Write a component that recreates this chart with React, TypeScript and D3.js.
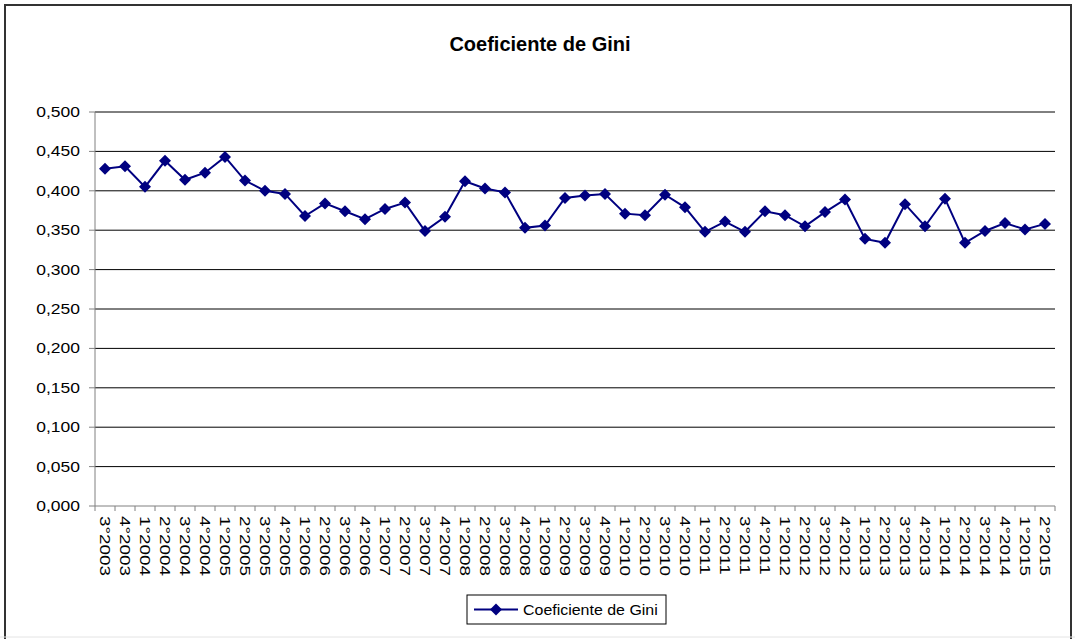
import { scaleBand, scaleLinear, line, range } from 'd3';

const quarters = [
  '3°2003', '4°2003',
  '1°2004', '2°2004', '3°2004', '4°2004',
  '1°2005', '2°2005', '3°2005', '4°2005',
  '1°2006', '2°2006', '3°2006', '4°2006',
  '1°2007', '2°2007', '3°2007', '4°2007',
  '1°2008', '2°2008', '3°2008', '4°2008',
  '1°2009', '2°2009', '3°2009', '4°2009',
  '1°2010', '2°2010', '3°2010', '4°2010',
  '1°2011', '2°2011', '3°2011', '4°2011',
  '1°2012', '2°2012', '3°2012', '4°2012',
  '1°2013', '2°2013', '3°2013', '4°2013',
  '1°2014', '2°2014', '3°2014', '4°2014',
  '1°2015', '2°2015',
];

const gini = [
  0.428, 0.431,
  0.405, 0.438, 0.414, 0.423,
  0.443, 0.413, 0.400, 0.396,
  0.368, 0.384, 0.374, 0.364,
  0.377, 0.385, 0.349, 0.367,
  0.412, 0.403, 0.398, 0.353,
  0.356, 0.391, 0.394, 0.396,
  0.371, 0.369, 0.395, 0.379,
  0.348, 0.361, 0.348, 0.374,
  0.369, 0.355, 0.373, 0.389,
  0.339, 0.334, 0.383, 0.355,
  0.390, 0.334, 0.349, 0.359,
  0.351, 0.358,
];

const yTicks = range(0, 0.5001, 0.05);

const seriesName = 'Coeficiente de Gini';
const navy = '#000080';
const font = '"Liberation Sans", Arial, sans-serif';

function Diamond({ x, y, r = 6 }: { x: number; y: number; r?: number }) {
  return (
    <path
      d={`M${x},${y - r}L${x + r},${y}L${x},${y + r}L${x - r},${y}Z`}
      fill={navy}
    />
  );
}

export default function App() {
  const width = 1075;
  const height = 639;
  const margin = { top: 112, right: 20, bottom: 133, left: 95 };
  const innerWidth = 960;
  const innerHeight = height - margin.top - margin.bottom;

  const xScale = scaleBand<string>().domain(quarters).range([0, innerWidth]);
  const yScale = scaleLinear().domain([0, 0.5]).range([innerHeight, 0]);
  const bw = xScale.bandwidth();
  const cx = (q: string) => (xScale(q) || 0) + bw / 2;

  const path = line<number>()
    .x((_, i) => cx(quarters[i]))
    .y((d) => yScale(d))(gini);

  const fmt = (v: number) => v.toFixed(3).replace('.', ',');

  return (
    <svg
      width={width}
      height={height}
      style={{ position: 'absolute', left: 0, top: 0, background: '#fff' }}
      fontFamily={font}
    >
      <rect x={5} y={5} width={1066} height={640} fill="#fff" stroke="#333" strokeWidth={2} />
      <line x1={0} x2={width} y1={637} y2={637} stroke="#e4e4e4" />

      <text x={540} y={51} textAnchor="middle" fontSize={20} fontWeight="bold">
        Coeficiente de Gini
      </text>

      <g transform={`translate(${margin.left},${margin.top})`}>
        {yTicks.map((t) => (
          <g key={t}>
            {t > 0 && (
              <line x1={0} x2={innerWidth} y1={yScale(t)} y2={yScale(t)} stroke="#000" strokeWidth={1} />
            )}
            <line x1={-6} x2={0} y1={yScale(t)} y2={yScale(t)} stroke="#808080" />
            <text
              transform={`translate(-15,${yScale(t) + 5}) scale(1.25,1)`}
              textAnchor="end"
              fontSize={14}
            >
              {fmt(t)}
            </text>
          </g>
        ))}
        <line x1={0} x2={0} y1={0} y2={innerHeight} stroke="#808080" />
        <line x1={0} x2={innerWidth} y1={innerHeight} y2={innerHeight} stroke="#808080" />
        {quarters.map((q) => (
          <line
            key={`t-${q}`}
            x1={xScale(q) || 0}
            x2={xScale(q) || 0}
            y1={innerHeight}
            y2={innerHeight + 5}
            stroke="#808080"
          />
        ))}
        <line x1={innerWidth} x2={innerWidth} y1={innerHeight} y2={innerHeight + 5} stroke="#808080" />
        {quarters.map((q) => (
          <text
            key={`l-${q}`}
            transform={`translate(${cx(q) - 5},${innerHeight + 10}) rotate(90) scale(1.35,1)`}
            fontSize={14}
          >
            {q}
          </text>
        ))}

        <path d={path || ''} fill="none" stroke={navy} strokeWidth={2} />
        {gini.map((v, i) => (
          <Diamond key={quarters[i]} x={cx(quarters[i])} y={yScale(v)} />
        ))}
      </g>

      <g transform="translate(467,595)">
        <rect x={0} y={0} width={199} height={29} fill="#fff" stroke="#000" />
        <line x1={7} x2={51} y1={14.5} y2={14.5} stroke={navy} strokeWidth={2} />
        <Diamond x={29} y={14.5} />
        <text transform="translate(56,20) scale(1.14,1)" fontSize={14}>
          {seriesName}
        </text>
      </g>
    </svg>
  );
}
